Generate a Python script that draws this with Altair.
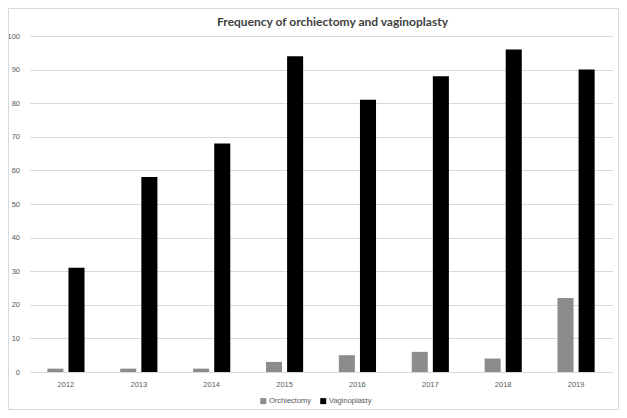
import altair as alt
import pandas as pd

years = ["2012", "2013", "2014", "2015", "2016", "2017", "2018", "2019"]
orchiectomy = [1, 1, 1, 3, 5, 6, 4, 22]
vaginoplasty = [31, 58, 68, 94, 81, 88, 96, 90]
series = ["Orchiectomy", "Vaginoplasty"]
colors = ["#8c8c8c", "#000000"]

rows = []
for i, y in enumerate(years):
    rows.append({"year": y, "series": series[0], "value": orchiectomy[i]})
    rows.append({"year": y, "series": series[1], "value": vaginoplasty[i]})
df = pd.DataFrame(rows)

W, H = 583, 336
FONT = "Liberation Sans"

bars = alt.Chart(df).mark_bar().encode(
    x=alt.X("year:N", sort=years, title=None,
            scale=alt.Scale(paddingInner=0.49, paddingOuter=0.245),
            axis=alt.Axis(labelAngle=0, ticks=False, domainColor="#d9d9d9",
                          labelColor="#595959", labelFontSize=7.5, labelPadding=8,
                          labelFont=FONT)),
    xOffset=alt.XOffset("series:N", sort=series,
                        scale=alt.Scale(paddingInner=0.24, paddingOuter=0)),
    y=alt.Y("value:Q", title=None,
            scale=alt.Scale(domain=[0, 100], nice=False),
            axis=alt.Axis(values=list(range(0, 101, 10)), ticks=False, domain=False,
                          gridColor="#d9d9d9", labelColor="#595959", labelFontSize=7.5,
                          labelPadding=10, labelFont=FONT)),
    color=alt.Color("series:N", sort=series,
                    scale=alt.Scale(domain=series, range=colors),
                    legend=alt.Legend(title=None, orient="none", direction="horizontal",
                                      legendX=230, legendY=361, symbolType="square",
                                      symbolSize=36, symbolStrokeWidth=0,
                                      labelFontSize=7.5, labelColor="#595959",
                                      labelFont=FONT, labelOffset=2, columnPadding=8,
                                      symbolOffset=0)),
)

border = alt.Chart(pd.DataFrame({"a": [0]})).mark_rect(
    fill=None, stroke="#d9d9d9", strokeWidth=1
).encode(x=alt.value(-21), x2=alt.value(589), y=alt.value(-27.5), y2=alt.value(373.5))

chart = alt.layer(bars, border).properties(
    width=W, height=H,
    title=alt.TitleParams("Frequency of orchiectomy and vaginoplasty", fontSize=12,
                          fontWeight="bold", color="#404040", font="Lato",
                          anchor="middle", offset=0, dy=21, dx=11.5),
    padding={"left": 21.5, "top": 28, "right": 6, "bottom": 38},
    autosize=alt.AutoSizeParams(type="none"),
).configure_view(stroke=None)

chart.save("out.html", embed_options={"renderer": "svg", "actions": False})
